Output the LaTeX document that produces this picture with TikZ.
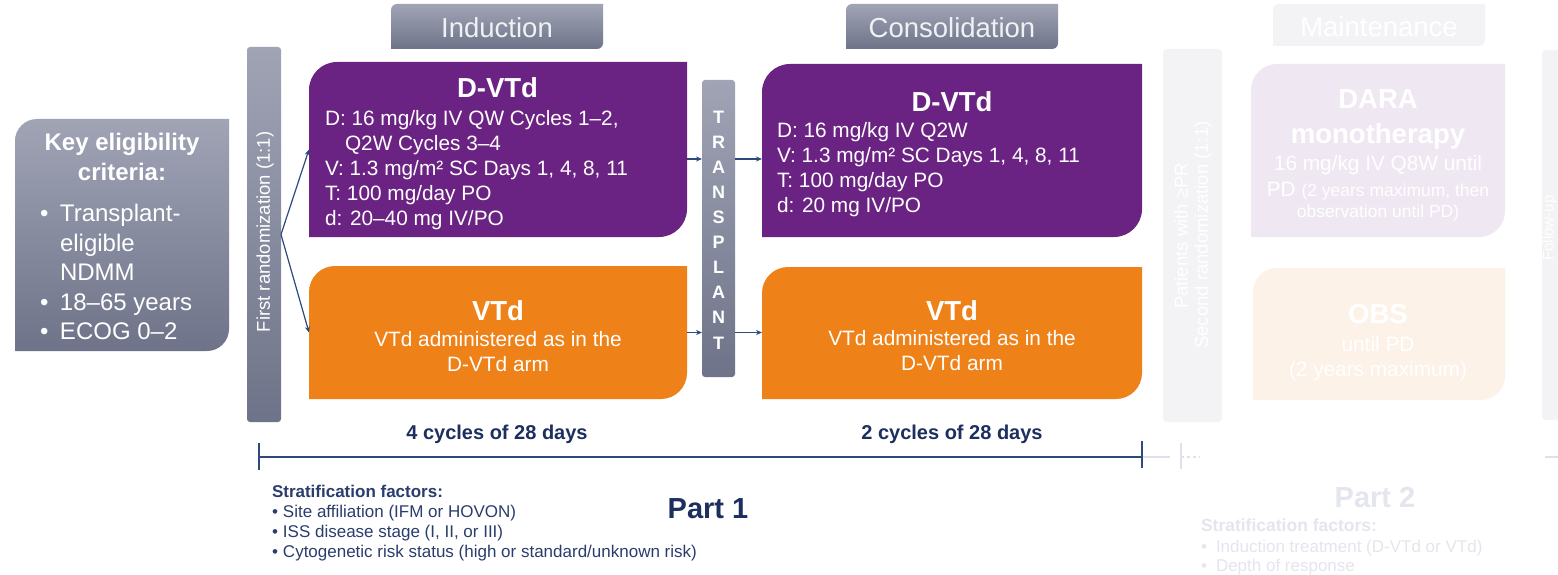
\documentclass[tikz,border=0pt]{standalone}
\usepackage{fontspec}
\setmainfont{Liberation Sans}
\usetikzlibrary{calc,arrows.meta}
\definecolor{purp}{HTML}{6A2382}
\definecolor{orng}{HTML}{EE8219}
\definecolor{gtop}{HTML}{A0A4B5}
\definecolor{gbot}{HTML}{6E7389}
\definecolor{navy}{HTML}{1C2F5E}
\definecolor{stratc}{HTML}{2A3D6D}
\definecolor{linec}{HTML}{2E4A7D}
\definecolor{tabtext}{HTML}{F0F1F5}
\definecolor{fpurp}{HTML}{EFE7F2}
\definecolor{forng}{HTML}{FDF2E8}
\definecolor{fgray}{HTML}{F3F3F5}
\definecolor{ftext}{HTML}{E4E6ED}
\definecolor{fline}{HTML}{DDE1E9}
\newcommand\diagfill[3]{%
  \path[#3] (#1.south west) -- ([yshift=-#2pt]#1.north west)
    arc[start angle=180,end angle=90,radius=#2pt] -- (#1.north east)
    -- ([yshift=#2pt]#1.south east)
    arc[start angle=0,end angle=-90,radius=#2pt] -- cycle;}
\begin{document}
\begin{tikzpicture}[x=1pt,y=-1pt,
  every node/.style={inner sep=0pt,outer sep=0pt},
  shapebox/.style={draw=none,inner sep=0pt,outer sep=0pt,anchor=north west},
  fTitle/.style={font=\fontsize{27.5}{33}\selectfont\bfseries,text=white,anchor=base},
  fBody/.style={font=\fontsize{20.8}{25}\selectfont,text=white,anchor=base west},
  fBodyC/.style={font=\fontsize{20.8}{25}\selectfont,text=white,anchor=base},
  fElig/.style={font=\fontsize{24}{30}\selectfont,text=white,anchor=base west},
  fEligB/.style={font=\fontsize{24}{30}\selectfont\bfseries,text=white,anchor=base},
  fTab/.style={font=\fontsize{27.5}{33}\selectfont,anchor=base},
  fBar/.style={font=\fontsize{18.5}{22}\selectfont,text=white,rotate=90},
  fTP/.style={font=\fontsize{18}{22}\selectfont\bfseries,text=white},
  fCyc/.style={font=\fontsize{20}{24}\selectfont\bfseries,text=navy,anchor=base},
  fStrat/.style={font=\fontsize{17}{20}\selectfont,anchor=base west},
  fPart/.style={font=\fontsize{29}{35}\selectfont\bfseries,anchor=base},
  grayfill/.style={top color=gtop,bottom color=gbot},
  arr/.style={draw=linec,line width=1.2pt,-{Stealth[length=6pt,width=5pt]}},
  tline/.style={draw=linec,line width=1.5pt},
  fadeline/.style={draw=fline,line width=1.5pt}]
\useasboundingbox (0,0) rectangle (1558,575);
\fill[white] (0,0) rectangle (1558,575);

% ---------- Eligibility ----------
\node[shapebox,minimum width=214pt,minimum height=232pt] (elig) at (15,119) {};
\diagfill{elig}{22}{grayfill}
\node[fEligB] (e1) at (122,150) {Key eligibility};
\node[fEligB] (e2) at (122,180) {criteria:};
\node[fElig] (e3) at (40,221.5) {\makebox[20pt][l]{•}Transplant-};
\node[fElig] (e4) at (60,251) {eligible};
\node[fElig] (e5) at (60,280.5) {NDMM};
\node[fElig] (e6) at (40,310) {\makebox[20pt][l]{•}18–65 years};
\node[fElig] (e7) at (40,339) {\makebox[20pt][l]{•}ECOG 0–2};

% ---------- Tabs ----------
\node[shapebox,minimum width=212pt,minimum height=45pt] (tabI) at (391,4) {};
\diagfill{tabI}{6}{grayfill}
\node[fTab,text=tabtext] (tabIt) at (497,38) {Induction};
\node[shapebox,minimum width=212pt,minimum height=45pt] (tabC) at (846,4) {};
\diagfill{tabC}{6}{grayfill}
\node[fTab,text=tabtext] (tabCt) at (952,38) {Consolidation};
\node[shapebox,minimum width=212pt,minimum height=42pt] (tabM) at (1273,4) {};
\diagfill{tabM}{6}{fill=fgray}
\node[fTab,text=white] (tabMt) at (1379,37) {Maintenance};

% ---------- First randomization bar ----------
\node[shapebox,minimum width=34pt,minimum height=375pt] (frb) at (247,47) {};
\path[rounded corners=3pt,grayfill] (frb.south west) rectangle (frb.north east);
\node[fBar] (frbt) at (265,232) {First randomization (1:1)};

% ---------- Induction boxes ----------
\node[shapebox,minimum width=378pt,minimum height=175pt] (ip) at (309,62) {};
\diagfill{ip}{28}{fill=purp}
\node[fTitle] (ipt) at (497.5,98) {D-VTd};
\node[fBody] (ip1) at (325,125.5) {D: 16 mg/kg IV QW Cycles 1–2,};
\node[fBody] (ip2) at (345,150.5) {Q2W Cycles 3–4};
\node[fBody] (ip3) at (325,175.5) {V: 1.3 mg/m² SC Days 1, 4, 8, 11};
\node[fBody] (ip4) at (325,200.5) {T: 100 mg/day PO};
\node[fBody] (ip5) at (325,225.5) {d: 20–40 mg IV/PO};

\node[shapebox,minimum width=378pt,minimum height=133pt] (iv) at (309,266) {};
\diagfill{iv}{26}{fill=orng}
\node[fTitle] (ivt) at (498,320) {VTd};
\node[fBodyC] (iv1) at (498,346.5) {VTd administered as in the};
\node[fBodyC] (iv2) at (498,371.5) {D-VTd arm};

% ---------- Transplant ----------
\node[shapebox,minimum width=33pt,minimum height=297pt] (tpb) at (702,80) {};
\path[rounded corners=3pt,grayfill] (tpb.south west) rectangle (tpb.north east);
\foreach \l [count=\i] in {T,R,A,N,S,P,L,A,N,T}
  \node[fTP] (tpl\i) at (718.5,{117+(\i-1)*25.1}) {\l};

% ---------- Consolidation boxes ----------
\node[shapebox,minimum width=380pt,minimum height=173pt] (cp) at (762,64) {};
\diagfill{cp}{28}{fill=purp}
\node[fTitle] (cpt) at (952,112) {D-VTd};
\node[fBody] (cp1) at (777,137.5) {D: 16 mg/kg IV Q2W};
\node[fBody] (cp2) at (777,162.5) {V: 1.3 mg/m² SC Days 1, 4, 8, 11};
\node[fBody] (cp3) at (777,187.5) {T: 100 mg/day PO};
\node[fBody] (cp4) at (777,212.5) {d: 20 mg IV/PO};

\node[shapebox,minimum width=380pt,minimum height=132pt] (cv) at (762,267) {};
\diagfill{cv}{26}{fill=orng}
\node[fTitle] (cvt) at (952,320) {VTd};
\node[fBodyC] (cv1) at (952,345.5) {VTd administered as in the};
\node[fBodyC] (cv2) at (952,370.5) {D-VTd arm};

% ---------- Arrows ----------
\coordinate (ya) at (0,159);
\draw[arr] (frb.east) -- (ip.west);
\draw[arr] (frb.east) -- (iv.west);
\draw[arr] (ip.east |- ya) -- (tpb.west |- ya);
\draw[arr] (iv.east) -- (tpb.west |- iv.east);
\draw[arr] (tpb.east |- ya) -- (cp.west |- ya);
\draw[arr] (tpb.east |- iv.east) -- (cv.west |- iv.east);

% ---------- Faded part 2 ----------
\node[shapebox,minimum width=59pt,minimum height=373pt] (srb) at (1163,49) {};
\path[rounded corners=4pt,fill=fgray] (srb.south west) rectangle (srb.north east);
\node[fBar] (srb1) at (1181,236) {Patients with ≥PR};
\node[fBar] (srb2) at (1203,235) {Second randomization (1:1)};

\node[shapebox,minimum width=254pt,minimum height=173pt] (dp) at (1251,64) {};
\diagfill{dp}{26}{fill=fpurp}
\node[fTitle] (dpt1) at (1378,109) {DARA};
\node[fTitle] (dpt2) at (1378,144) {monotherapy};
\node[fBodyC] (dp1) at (1378,170.5) {16 mg/kg IV Q8W until};
\node[fBodyC] (dp2) at (1378,196) {PD {\fontsize{17.5}{21}\selectfont(2 years maximum, then}};
\node[fBodyC,font=\fontsize{17.5}{21}\selectfont] (dp3) at (1378,217.5) {observation until PD)};

\node[shapebox,minimum width=252pt,minimum height=132pt] (ob) at (1253,268) {};
\diagfill{ob}{24}{fill=forng}
\node[fTitle] (obt) at (1378,323.5) {OBS};
\node[fBodyC] (ob1) at (1378,351) {until PD};
\node[fBodyC] (ob2) at (1378,376) {(2 years maximum)};

\node[shapebox,minimum width=40pt,minimum height=370pt] (fub) at (1542,50) {};
\path[rounded corners=4pt,fill=fgray] (fub.south west) rectangle (fub.north east);
\node[fBar,font=\fontsize{15}{18}\selectfont] (fubt) at (1549.5,228) {Follow-up};

% ---------- Timeline ----------
\coordinate (tlA) at (259,457);
\coordinate (tlB) at (1142,457);
\coordinate (tlC) at (1170,457);
\coordinate (tlD) at (1181,457);
\coordinate (tlE) at (1200,457);
\coordinate (tlF) at (1545,457);
\coordinate (tlG) at (1560,457);
\draw[fadeline] (tlB) -- (tlC);
\draw[fadeline] ([yshift=14pt]tlD) -- ([yshift=-12pt]tlD);
\draw[fadeline,dashed] (tlD) -- (tlE);
\draw[fadeline] (tlF) -- (tlG);
\draw[tline] (tlA) -- (tlB);
\draw[tline] ([yshift=14pt]tlA) -- ([yshift=-13pt]tlA);
\draw[tline] ([yshift=16pt]tlB) -- ([yshift=-11pt]tlB);

\node[fCyc] (cyc1) at (497,439) {4 cycles of 28 days};
\node[fCyc] (cyc2) at (952,439) {2 cycles of 28 days};

% ---------- Stratification ----------
\node[fStrat,text=stratc,font=\fontsize{17}{20}\selectfont\bfseries] (s0) at (272,497) {Stratification factors:};
\node[fStrat,text=stratc] (s1) at (272,517) {\makebox[11pt][l]{•}Site affiliation (IFM or HOVON)};
\node[fStrat,text=stratc] (s2) at (272,537) {\makebox[11pt][l]{•}ISS disease stage (I, II, or III)};
\node[fStrat,text=stratc] (s3) at (272,557) {\makebox[11pt][l]{•}Cytogenetic risk status (high or standard/unknown risk)};
\node[fPart,text=navy] (p1) at (708,518.5) {Part 1};

\node[fPart,text=ftext] (p2) at (1375,507.5) {Part 2};
\node[fStrat,text=ftext,font=\fontsize{17.5}{21}\selectfont\bfseries] (f0) at (1201,531) {Stratification factors:};
\node[fStrat,text=ftext] (f1) at (1201,552) {\makebox[15pt][l]{•}Induction treatment (D-VTd or VTd)};
\node[fStrat,text=ftext] (f2) at (1201,571) {\makebox[15pt][l]{•}Depth of response};
\end{tikzpicture}
\end{document}
